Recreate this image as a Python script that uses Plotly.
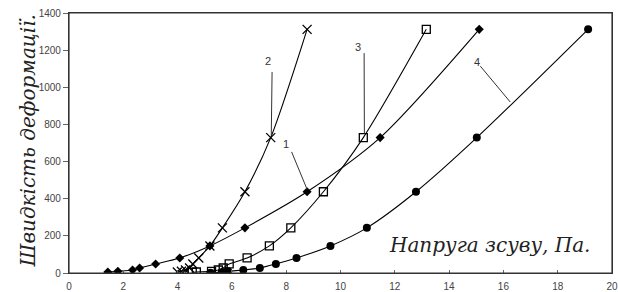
import plotly.graph_objects as go

# Series data (shear stress, Pa  vs  strain rate)
x1 = [1.43, 1.80, 2.34, 2.60, 3.19, 4.08, 5.19, 6.48, 8.77, 11.46, 15.11]
y1 = [5.4, 9.0, 16.2, 27.0, 48.6, 81.0, 145.8, 243.0, 437.4, 729.0, 1312.0]

x2 = [3.99, 4.14, 4.29, 4.44, 4.56, 4.78, 5.19, 5.65, 6.48, 7.43, 8.77]
y2 = [5.4, 9.0, 16.2, 27.0, 48.6, 81.0, 145.8, 243.0, 437.4, 729.0, 1312.0]

x3 = [4.54, 4.69, 5.25, 5.50, 5.68, 5.90, 6.56, 7.38, 8.17, 9.37, 10.84, 13.16]
y3 = [3.0, 5.4, 9.0, 16.2, 27.0, 48.6, 81.0, 145.8, 243.0, 437.4, 729.0, 1312.0]

x4 = [5.21, 5.62, 5.74, 5.86, 6.42, 7.03, 7.62, 8.38, 9.63, 10.97, 12.78, 15.02, 19.12]
y4 = [1.8, 3.0, 5.4, 9.0, 16.2, 27.0, 48.6, 81.0, 145.8, 243.0, 437.4, 729.0, 1312.0]

curve_labels = ["1", "2", "3", "4"]
x_title = "Напруга зсуву, Па."
y_title = "Швидкість деформації."

fig = go.Figure()
line = dict(color="black", width=1.1, shape="spline", smoothing=0.8)
fig.add_trace(go.Scatter(x=x1, y=y1, mode="lines+markers", line=line,
                         marker=dict(symbol="diamond", size=7, color="black")))
fig.add_trace(go.Scatter(x=x2, y=y2, mode="lines+markers", line=line,
                         marker=dict(symbol="x-thin", size=9, color="black",
                                     line=dict(width=1.3, color="black"))))
fig.add_trace(go.Scatter(x=x3, y=y3, mode="lines+markers", line=line,
                         marker=dict(symbol="square-open", size=8, color="black",
                                     line=dict(width=1.3, color="black"))))
fig.add_trace(go.Scatter(x=x4, y=y4, mode="lines+markers", line=line,
                         marker=dict(symbol="circle", size=8, color="black")))

# Leader lines and labels (positions in data coords)
leaders = [
    (curve_labels[0], 8.2, 652, 8.77, 450, 7.99, 697),
    (curve_labels[1], 7.48, 1082, 7.45, 740, 7.32, 1141),
    (curve_labels[2], 10.87, 1184, 10.88, 750, 10.66, 1217),
    (curve_labels[3], 15.15, 1114, 16.25, 921, 15.03, 1136),
]
for lab, xa, ya, xb, yb, xt, yt in leaders:
    fig.add_shape(type="line", x0=xa, y0=ya, x1=xb, y1=yb,
                  line=dict(color="#333", width=1))
    fig.add_annotation(x=xt, y=yt, text=lab, showarrow=False,
                       font=dict(family="Liberation Sans", size=11, color="#333"))

# plot frame
fig.add_shape(type="rect", xref="paper", yref="paper", x0=0, y0=0, x1=1, y1=1,
              line=dict(color="#333", width=1.2), layer="above")

fig.add_annotation(x=11.7, y=150, text="<i>" + x_title + "</i>", showarrow=False,
                   font=dict(family="DejaVu Serif", size=20, color="#222"),
                   xanchor="left", yanchor="middle")
fig.add_annotation(xref="paper", yref="paper", x=-0.0755, y=0.506,
                   text="<i>" + y_title + "</i>",
                   textangle=-90, showarrow=False,
                   font=dict(family="DejaVu Serif", size=20, color="#222"),
                   xanchor="center", yanchor="middle")

fig.update_xaxes(range=[0, 20], dtick=2, tick0=0, showgrid=False, zeroline=False,
                 showline=True, linecolor="#333", linewidth=1.2, mirror=True,
                 ticks="inside", ticklen=3, tickcolor="#666", automargin=False,
                 ticklabeloverflow="allow", ticklabelstandoff=4,
                 tickfont=dict(family="Liberation Sans", size=10, color="#444"))
fig.update_yaxes(range=[0, 1400], dtick=200, tick0=0, showgrid=False, zeroline=False,
                 showline=True, linecolor="#333", linewidth=1.2, mirror=True,
                 ticks="outside", ticklen=5, tickcolor="#666", automargin=False,
                 ticklabeloverflow="allow",
                 tickfont=dict(family="Liberation Sans", size=10, color="#444"))
fig.update_layout(width=618, height=292, showlegend=False,
                  margin=dict(l=69, r=6, t=13, b=19),
                  plot_bgcolor="white", paper_bgcolor="white")
fig.write_html("out.html", config={"displayModeBar": False},
               post_script="document.body.style.margin='0';"
                           "document.body.style.overflow='hidden';")
